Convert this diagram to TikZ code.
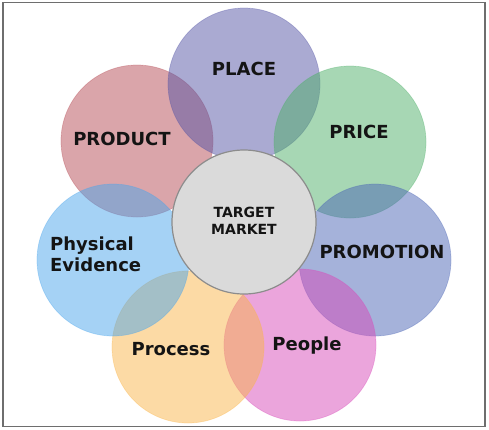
\documentclass[tikz,border=0pt]{standalone}
\usepackage{fontspec}
\setmainfont{DejaVu Sans}
\definecolor{cProduct}{RGB}{181,75,85}
\definecolor{cPlace}{RGB}{85,85,165}
\definecolor{cPrice}{RGB}{79,175,105}
\definecolor{cPromo}{RGB}{75,101,181}
\definecolor{cPeople}{RGB}{215,75,185}
\definecolor{cProcess}{RGB}{249,181,75}
\definecolor{cPhys}{RGB}{75,165,235}
\definecolor{cCenter}{RGB}{218,218,218}
\definecolor{cCenterEdge}{RGB}{140,140,140}
\definecolor{cFrame}{RGB}{110,110,110}
\definecolor{cText}{RGB}{20,20,20}
\begin{document}
\begin{tikzpicture}[x=1pt,y=-1pt,
  petal/.style={circle,inner sep=0pt,minimum size=152pt,fill=#1,fill opacity=0.5,draw=#1,draw opacity=0.35,line width=0.7pt},
  lbl/.style={font=\fontsize{18}{21}\selectfont\bfseries,text=cText,inner sep=0pt},
  hub/.style={circle,inner sep=0pt,minimum size=144pt,fill=cCenter,draw=cCenterEdge,line width=1.2pt}]
\useasboundingbox (0,0) rectangle (489,429);
\node[draw=cFrame,line width=1.5pt,minimum width=482pt,minimum height=424pt,inner sep=0pt] (frame) at (244,214.5) {};
% petals (draw order matters for overlaps)
\node[petal=cProduct] (product) at (137,141) {};
\node[petal=cPlace] (place) at (244,84) {};
\node[petal=cPrice] (price) at (350,142) {};
\node[petal=cPromo] (promotion) at (375,260) {};
\node[petal=cPeople] (people) at (300,345) {};
\node[petal=cProcess] (process) at (188,347) {};
\node[petal=cPhys] (physical) at (113,260) {};
% hub
\node[hub] (hub) at (244,222) {};
% labels
\node[lbl] (tPlace) at (244,69) {PLACE};
\node[lbl] (tPrice) at (359,132) {PRICE};
\node[lbl] (tProduct) at (122,139) {PRODUCT};
\node[lbl] (tPromo) at (382,252) {PROMOTION};
\node[lbl,align=left,anchor=west] (tPhys) at (50,254) {Physical\\Evidence};
\node[lbl] (tProcess) at (171,349) {Process};
\node[lbl] (tPeople) at (307,346) {People};
\node[font=\fontsize{14}{17}\selectfont\bfseries,text=cText,align=center,inner sep=0pt] (tHub) at (244,221) {TARGET\\MARKET};
\end{tikzpicture}
\end{document}
